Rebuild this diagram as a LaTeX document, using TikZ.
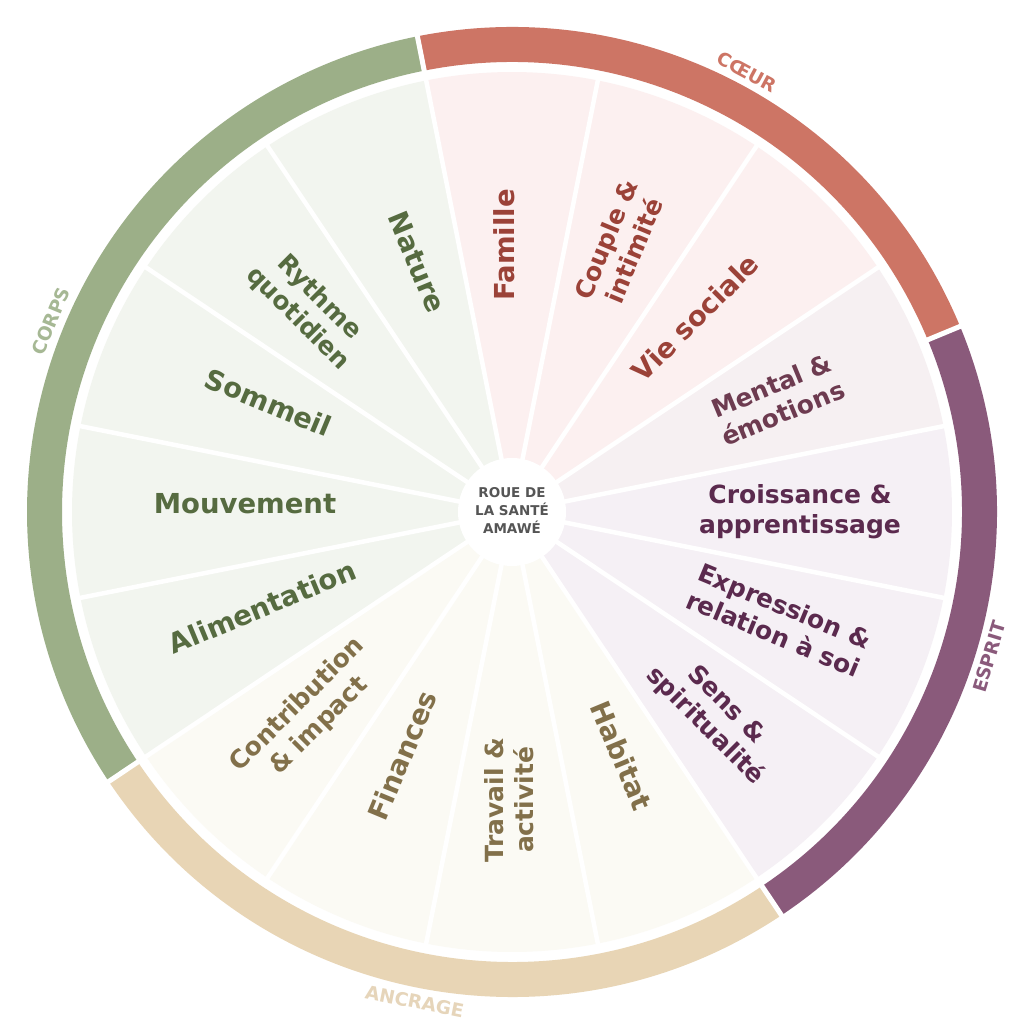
\documentclass[tikz,border=0pt]{standalone}
\usepackage{fontspec}
\setmainfont{DejaVu Sans}
\usetikzlibrary{calc}
\definecolor{corpsring}{HTML}{9CAF88}
\definecolor{coeurring}{HTML}{CD7565}
\definecolor{espritring}{HTML}{8A5A7B}
\definecolor{ancragering}{HTML}{E8D5B5}
\definecolor{corpslab}{HTML}{A6B894}
\definecolor{coeurlab}{HTML}{CD7565}
\definecolor{espritlab}{HTML}{8A5A7B}
\definecolor{ancragelab}{HTML}{E6D5BA}
\definecolor{corpstxt}{HTML}{566B40}
\definecolor{coeurtxt}{HTML}{9B4238}
\definecolor{esprittxt}{HTML}{5B2A4E}
\definecolor{ancragetxt}{HTML}{82704A}
\definecolor{mentaltxt}{HTML}{6D3B50}
\definecolor{corpsbg}{HTML}{F2F5EF}
\definecolor{coeurbg}{HTML}{FCF0F0}
\definecolor{espritbg}{HTML}{F5F0F5}
\definecolor{ancragebg}{HTML}{FBFAF4}
\definecolor{mentalbg}{HTML}{F6F0F2}
\definecolor{centertxt}{HTML}{555555}
\tikzset{
  lab1/.style={inner sep=0pt, font=\bfseries\fontsize{27.5}{33}\selectfont},
  lab2/.style={inner sep=0pt, align=center, font=\bfseries\fontsize{25}{30}\selectfont},
  grouplab/.style={inner sep=0pt, font=\bfseries\fontsize{18.5}{22}\selectfont},
  sepline/.style={white, line width=4.5pt},
}
\newcommand\ringsector[3]{%
  \fill[#3] (#1:450) arc[start angle=#1, end angle=#2, radius=450] -- (#2:485) arc[start angle=#2, end angle=#1, radius=485] -- cycle;}
\begin{document}
\begin{tikzpicture}[x=1pt,y=1pt]
\useasboundingbox (-512,-512) rectangle (512,512);
\fill[white] (-512,-512) rectangle (512,512);
% wedges
\foreach \a/\c in {90/coeurbg, 67.5/coeurbg, 45/coeurbg, 22.5/mentalbg, 0/espritbg, -22.5/espritbg, -45/espritbg, -67.5/ancragebg, -90/ancragebg, -112.5/ancragebg, -135/ancragebg, -157.5/corpsbg, 180/corpsbg, 157.5/corpsbg, 135/corpsbg, 112.5/corpsbg}{
  \pgfmathsetmacro\sa{\a-11.25}
  \pgfmathsetmacro\ea{\a+11.25}
  \fill[\c] (0,0) -- (\sa:440) arc[start angle=\sa, end angle=\ea, radius=440] -- cycle;
}
% separators
\foreach \k in {0,...,15}{
  \pgfmathsetmacro\ang{101.25-22.5*\k}
  \draw[sepline] (0,0) -- (\ang:442);
}
% outer ring
\ringsector{22.5}{101.25}{coeurring}
\ringsector{-56.25}{22.5}{espritring}
\ringsector{-146.25}{-56.25}{ancragering}
\ringsector{101.25}{213.75}{corpsring}
\foreach \g in {101.25, 22.5, -56.25, -146.25}{
  \draw[white, line width=5pt] (\g:445) -- (\g:490);
}
% center
\node[circle, fill=white, minimum size=108pt, inner sep=0pt] (hub) at (0,0) {};
\node[align=center, inner sep=0pt, text=centertxt, font=\bfseries\fontsize{13.5}{18}\selectfont] (hubtext) at (0,2) {ROUE DE\\LA SANTÉ\\AMAWÉ};
% single-line labels
\node[lab1, text=coeurtxt, rotate=90] (famille) at ($(90:267)+(180:8)$) {Famille};
\node[lab1, text=coeurtxt, rotate=45] (viesociale) at ($(45:267)+(135:8)$) {Vie sociale};
\node[lab1, text=ancragetxt, rotate=-67.5] (habitat) at ($(-67.5:267)+(22.5:8)$) {Habitat};
\node[lab1, text=ancragetxt, rotate=67.5] (finances) at ($(-112.5:267)+(157.5:8)$) {Finances};
\node[lab1, text=corpstxt, rotate=22.5] (alimentation) at ($(-157.5:267)+(112.5:8)$) {Alimentation};
\node[lab1, text=corpstxt, rotate=0] (mouvement) at ($(180:267)+(90:8)$) {Mouvement};
\node[lab1, text=corpstxt, rotate=-22.5] (sommeil) at ($(157.5:267)+(67.5:8)$) {Sommeil};
\node[lab1, text=corpstxt, rotate=-67.5] (nature) at ($(112.5:267)+(22.5:8)$) {Nature};
% two-line labels
\node[lab2, text=coeurtxt, rotate=67.5] (couple) at (67.5:288) {\vphantom{l}Couple \&\\intimité\vphantom{p}};
\node[lab2, text=mentaltxt, rotate=22.5] (mental) at (22.5:288) {\vphantom{l}Mental \&\\émotions\vphantom{p}};
\node[lab2, text=esprittxt, rotate=0] (croissance) at (0:288) {\vphantom{l}Croissance \&\\apprentissage\vphantom{p}};
\node[lab2, text=esprittxt, rotate=-22.5] (expression) at (-22.5:288) {\vphantom{l}Expression \&\\relation à soi\vphantom{p}};
\node[lab2, text=esprittxt, rotate=-45] (sens) at (-45:288) {\vphantom{l}Sens \&\\spiritualité\vphantom{p}};
\node[lab2, text=ancragetxt, rotate=90] (travail) at (-90:288) {\vphantom{l}Travail \&\\activité\vphantom{p}};
\node[lab2, text=ancragetxt, rotate=45] (contribution) at (-135:288) {\vphantom{l}Contribution\\\& impact\vphantom{p}};
\node[lab2, text=corpstxt, rotate=-45] (rythme) at (135:288) {\vphantom{l}Rythme\\quotidien\vphantom{p}};
% group labels
\node[grouplab, text=coeurlab, rotate=-28.125] (coeur) at (61.875:499) {CŒUR};
\node[grouplab, text=espritlab, rotate=73.125] (esprit) at (-16.875:499) {ESPRIT};
\node[grouplab, text=ancragelab, rotate=-11.25] (ancrage) at (-101.25:499) {ANCRAGE};
\node[grouplab, text=corpslab, rotate=67.5] (corps) at (157.5:499) {CORPS};
\end{tikzpicture}
\end{document}
